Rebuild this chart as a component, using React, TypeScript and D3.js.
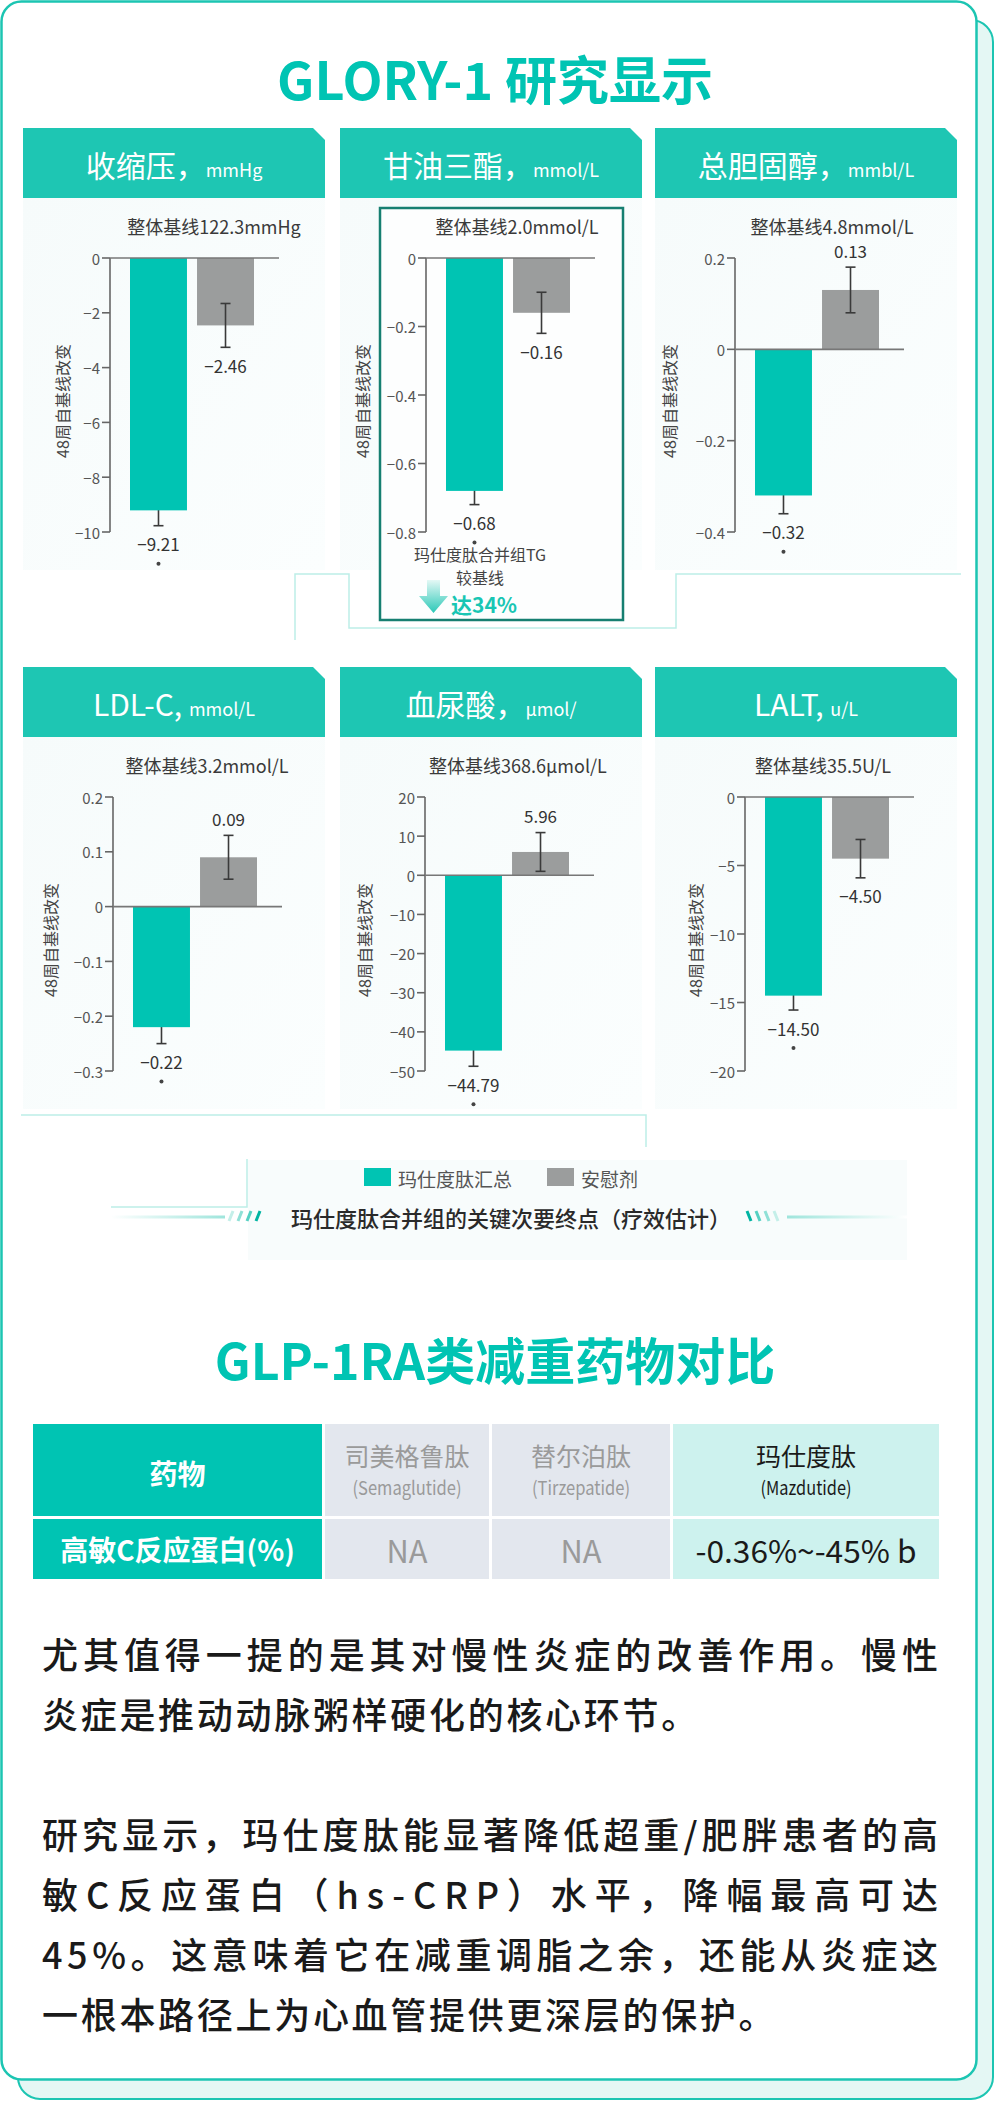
import * as d3 from "d3";
import React from "react";

const TEAL = "#00c4b3";
const GRAY = "#9b9d9d";
const FONT = '"Noto Sans CJK SC", "Noto Sans", sans-serif';

// panel data
const panelTitles = ["收缩压，", "甘油三酯，", "总胆固醇，", "LDL-C, ", "血尿酸，", "LALT, "];
const panelUnits = ["mmHg", "mmol/L", "mmbl/L", "mmol/L", "μmol/", "u/L"];
const baselines = [
  "整体基线122.3mmHg",
  "整体基线2.0mmol/L",
  "整体基线4.8mmol/L",
  "整体基线3.2mmol/L",
  "整体基线368.6μmol/L",
  "整体基线35.5U/L",
];
const mazduValues = [-9.21, -0.68, -0.32, -0.22, -44.79, -14.5];
const mazduErrors = [0.56, 0.04, 0.04, 0.03, 4.0, 1.05];
const placeboValues = [-2.46, -0.16, 0.13, 0.09, 5.96, -4.5];
const placeboErrors = [0.8, 0.06, 0.05, 0.04, 4.95, 1.4];
const yDomains: [number, number][] = [
  [-10, 0],
  [-0.8, 0],
  [-0.4, 0.2],
  [-0.3, 0.2],
  [-50, 20],
  [-20, 0],
];
const yTicks = [
  [0, -2, -4, -6, -8, -10],
  [0, -0.2, -0.4, -0.6, -0.8],
  [0.2, 0, -0.2, -0.4],
  [0.2, 0.1, 0, -0.1, -0.2, -0.3],
  [20, 10, 0, -10, -20, -30, -40, -50],
  [0, -5, -10, -15, -20],
];
const yAxisLabel = "48周自基线改变";
const annotLines = ["玛仕度肽合并组TG", "较基线"];
const annotHighlight = "达34%";

const legendLabels = ["玛仕度肽汇总", "安慰剂"];
const legendColors = [TEAL, GRAY];
const footerText = "玛仕度肽合并组的关键次要终点（疗效估计）";

const title1 = "GLORY-1 研究显示";
const title2 = "GLP-1RA类减重药物对比";

// table
const tableHeader = ["药物", "司美格鲁肽", "替尔泊肽", "玛仕度肽"];
const tableHeaderEn = ["", "(Semaglutide)", "(Tirzepatide)", "(Mazdutide)"];
const tableRow = ["高敏C反应蛋白(%)", "NA", "NA", "-0.36%~-45% b"];

const para1 = ["尤其值得一提的是其对慢性炎症的改善作用。慢性", "炎症是推动动脉粥样硬化的核心环节。"];
const para2 = [
  "研究显示，玛仕度肽能显著降低超重/肥胖患者的高",
  "敏C反应蛋白（hs-CRP）水平，降幅最高可达",
  "45%。这意味着它在减重调脂之余，还能从炎症这",
  "一根本路径上为心血管提供更深层的保护。",
];

// layout
const W = 995;
const H = 2101;
const colX = [23, 340, 655];
const rowY = [128, 667];
const PANEL_W = 302;
const HEAD_H = 70;
const BODY_H = 372;
const axisOff = [87, 86, 80, 90, 85, 90];
const yLabelOff = [39, 22, 14, 27, 24, 40];
const subOff = [191, 177, 177, 184, 178, 168];

const fmtVal = d3.format(".2f");
const fmtTick = d3.format("~g");

function Panel({ i }: { i: number }) {
  const col = i % 3;
  const row = Math.floor(i / 3);
  const x0 = colX[col];
  const y0 = rowY[row];
  const hb = y0 + HEAD_H;
  const ax = x0 + axisOff[i];
  const y = d3.scaleLinear().domain(yDomains[i]).range([hb + 334, hb + 60]);
  const xb = d3
    .scaleBand<number>()
    .domain([0, 1])
    .range([ax + 20, ax + 144])
    .paddingInner(0.15);
  const vals = [mazduValues[i], placeboValues[i]];
  const errs = [mazduErrors[i], placeboErrors[i]];
  const colors = [TEAL, GRAY];
  const bw = xb.bandwidth();
  const c = 12;

  const errBar = (k: number) => {
    const cx = xb(k)! + bw / 2;
    const v = vals[k];
    const e = errs[k];
    return (
      <g key={"e" + k} stroke="#3a3a3a" strokeWidth={1.6}>
        <line x1={cx} x2={cx} y1={y(v - e)} y2={y(v + e)} />
        <line x1={cx - 5} x2={cx + 5} y1={y(v - e)} y2={y(v - e)} />
        <line x1={cx - 5} x2={cx + 5} y1={y(v + e)} y2={y(v + e)} />
      </g>
    );
  };
  const bar = (k: number) => {
    const v = vals[k];
    return (
      <rect
        key={"b" + k}
        x={xb(k)}
        width={bw}
        y={y(Math.max(v, 0))}
        height={Math.abs(y(v) - y(0))}
        fill={colors[k]}
      />
    );
  };

  return (
    <g>
      <rect x={x0} y={hb} width={PANEL_W} height={BODY_H} fill="url(#bodyGrad)" />
      <polygon
        points={`${x0},${y0} ${x0 + PANEL_W - c},${y0} ${x0 + PANEL_W},${y0 + c} ${x0 + PANEL_W},${hb} ${x0},${hb}`}
        fill="#1ec6b3"
      />
      <text
        x={x0 + PANEL_W / 2}
        y={y0 + 49}
        textAnchor="middle"
        fill="#fff"
        fontFamily={FONT}
      >
        <tspan fontSize={30}>{panelTitles[i]}</tspan>
        <tspan fontSize={18}>{panelUnits[i]}</tspan>
      </text>
      {i === 1 && (
        <rect
          x={380}
          y={208}
          width={243}
          height={412}
          fill="#fdfefe"
          stroke="#167f71"
          strokeWidth={2.5}
        />
      )}
      <text
        x={x0 + subOff[i]}
        y={y0 + 98}
        textAnchor="middle"
        dominantBaseline="central"
        fontSize={18}
        fill="#3a3a3a"
        fontFamily={FONT}
      >
        {baselines[i]}
      </text>
      {/* axis */}
      <line x1={ax} x2={ax} y1={y.range()[1]} y2={y.range()[0]} stroke="#666" strokeWidth={1.6} />
      {yTicks[i].map((t) => (
        <g key={t}>
          <line x1={ax - 8} x2={ax} y1={y(t)} y2={y(t)} stroke="#666" strokeWidth={1.6} />
          <text
            x={ax - 10}
            y={y(t)}
            textAnchor="end"
            dominantBaseline="central"
            fontSize={15}
            fill="#555"
            fontFamily={FONT}
          >
            {fmtTick(t)}
          </text>
        </g>
      ))}
      <text
        transform={`translate(${x0 + yLabelOff[i]},${(y.range()[0] + y.range()[1]) / 2 + 6}) rotate(-90)`}
        textAnchor="middle"
        dominantBaseline="central"
        fontSize={16}
        fill="#444"
        fontFamily={FONT}
      >
        {yAxisLabel}
      </text>
      {errBar(0)}
      {bar(0)}
      {bar(1)}
      {errBar(1)}
      <line x1={ax} x2={ax + 169} y1={y(0)} y2={y(0)} stroke="#777" strokeWidth={1.6} />
      {vals.map((v, k) => {
        const cx = xb(k)! + bw / 2;
        const ly = v < 0 ? y(v - errs[k]) + 18 : y(v + errs[k]) - 17;
        return (
          <g key={"l" + k}>
            <text
              x={cx}
              y={ly}
              textAnchor="middle"
              dominantBaseline="central"
              fontSize={17}
              fill="#333"
              fontFamily={FONT}
            >
              {fmtVal(v)}
            </text>
            {k === 0 && (
              <circle cx={cx} cy={ly + 20} r={2} fill="#444" />
            )}
          </g>
        );
      })}
      {i === 1 && (
        <g fontFamily={FONT}>
          {annotLines.map((s, k) => (
            <text
              key={s}
              x={480}
              y={554 + k * 23}
              textAnchor="middle"
              dominantBaseline="central"
              fontSize={16}
              fill="#444"
            >
              {s}
            </text>
          ))}
          <path
            d="M427,580 H440 V596 H448 L433.5,613 L419,596 H427 Z"
            fill="url(#arrowGrad)"
          />
          <text
            x={451}
            y={604}
            dominantBaseline="central"
            fontSize={21}
            fontWeight="bold"
            fill="#19c6b4"
          >
            {annotHighlight}
          </text>
        </g>
      )}
    </g>
  );
}

function Slashes({ x, y, dir }: { x: number; y: number; dir: number }) {
  const shades = ["#c4efe9", "#8fe0d6", "#55d0c2", "#00b4a2"];
  const order = dir > 0 ? shades : [...shades].reverse();
  return (
    <g strokeWidth={3}>
      {order.map((col, k) => {
        const sx = x + k * 9;
        return dir > 0 ? (
          <line key={k} x1={sx} y1={y + 5} x2={sx + 4} y2={y - 5} stroke={col} />
        ) : (
          <line key={k} x1={sx} y1={y - 5} x2={sx + 4} y2={y + 5} stroke={col} />
        );
      })}
    </g>
  );
}

export default function App() {
  const tableCols: [number, number][] = [
    [33, 322],
    [325, 489],
    [492, 670],
    [673, 939],
  ];
  const colFill = [TEAL, "#e3e7ee", "#e3e7ee", "#cdf2ee"];
  const headFill = ["#fff", "#9a9a9a", "#9a9a9a", "#1a1a1a"];
  const enLen = [0, 109, 98, 91];
  const rowLen = [0, 41, 41, 221];
  const lineX = 42;
  const lineW = 896;

  return (
    <svg
      width={W}
      height={H}
      viewBox={`0 0 ${W} ${H}`}
      style={{ position: "absolute", left: 0, top: 0, background: "#fff" }}
    >
      <defs>
        <linearGradient id="bodyGrad" x1="0" y1="0" x2="1" y2="1">
          <stop offset="0" stopColor="#f6fbfb" />
          <stop offset="1" stopColor="#fbfefe" />
        </linearGradient>
        <linearGradient id="arrowGrad" x1="0" y1="0" x2="0" y2="1">
          <stop offset="0" stopColor="#e4f8f5" />
          <stop offset="1" stopColor="#2ac8b7" />
        </linearGradient>
        <linearGradient id="lineL" x1="0" y1="0" x2="1" y2="0">
          <stop offset="0" stopColor="#ffffff" />
          <stop offset="1" stopColor="#9fe5dc" />
        </linearGradient>
        <linearGradient id="lineR" x1="0" y1="0" x2="1" y2="0">
          <stop offset="0" stopColor="#9fe5dc" />
          <stop offset="1" stopColor="#ffffff" />
        </linearGradient>
      </defs>

      {/* cards */}
      <rect x={18} y={20} width={975} height={2079} rx={22} fill="#e4f7f4" stroke="#1cc5b2" strokeWidth={2} />
      <rect x={1.5} y={1.5} width={975} height={2078} rx={20} fill="#fff" stroke="#1cc5b2" strokeWidth={2.5} />

      <text x={495} y={100} textAnchor="middle" fontSize={52} fontWeight="bold" fill={TEAL} fontFamily={FONT}>
        {title1}
      </text>

      {/* decorative outlines */}
      <g fill="none" stroke="#bdeee8" strokeWidth={1.5}>
        <path d="M295,640 V574 H349 V628 H676 V574 H961" />
        <path d="M21,1115 H646 V1147" />
        <path d="M111,1207 H247 V1159" />
      </g>
      <rect x={248} y={1160} width={659} height={100} fill="#f8fcfc" />

      {panelTitles.map((_, i) => (
        <Panel key={i} i={i} />
      ))}

      {/* legend */}
      {legendLabels.map((lab, k) => {
        const lx = [364, 547][k];
        return (
          <g key={lab}>
            <rect x={lx} y={1168} width={27} height={18} fill={legendColors[k]} />
            <text x={lx + 34} y={1178} dominantBaseline="central" fontSize={19} fill="#555" fontFamily={FONT}>
              {lab}
            </text>
          </g>
        );
      })}
      <rect x={111} y={1215.5} width={114} height={3} fill="url(#lineL)" />
      <Slashes x={229} y={1216} dir={1} />
      <text
        x={511}
        y={1217}
        textAnchor="middle"
        dominantBaseline="central"
        fontSize={22}
        fontWeight={500}
        fill="#2a2a2a"
        fontFamily={FONT}
      >
        {footerText}
      </text>
      <Slashes x={747} y={1216} dir={-1} />
      <rect x={787} y={1215.5} width={120} height={3} fill="url(#lineR)" />

      <text x={495} y={1380} textAnchor="middle" fontSize={50} fontWeight="bold" fill={TEAL} fontFamily={FONT}>
        {title2}
      </text>

      {/* table */}
      {tableCols.map(([a, b], k) => {
        const cx = (a + b) / 2;
        return (
          <g key={k} fontFamily={FONT}>
            <rect x={a} y={1424} width={b - a} height={92} fill={colFill[k]} />
            <rect x={a} y={1519} width={b - a} height={60} fill={colFill[k]} />
            {k === 0 ? (
              <text x={cx} y={1473} textAnchor="middle" dominantBaseline="central" fontSize={28} fontWeight="bold" fill="#fff">
                {tableHeader[k]}
              </text>
            ) : (
              <>
                <text x={cx} y={1455} textAnchor="middle" dominantBaseline="central" fontSize={25} fill={headFill[k]}>
                  {tableHeader[k]}
                </text>
                <text
                  x={cx}
                  y={1486}
                  textAnchor="middle"
                  dominantBaseline="central"
                  fontSize={19}
                  fill={headFill[k]}
                  textLength={enLen[k]}
                  lengthAdjust="spacingAndGlyphs"
                >
                  {tableHeaderEn[k]}
                </text>
              </>
            )}
            {k === 0 ? (
              <text x={cx} y={1549} textAnchor="middle" dominantBaseline="central" fontSize={28} fontWeight="bold" fill="#fff">
                {tableRow[k]}
              </text>
            ) : (
              <text
                x={cx}
                y={1549}
                textAnchor="middle"
                dominantBaseline="central"
                fontSize={31}
                fill={headFill[k]}
                textLength={rowLen[k]}
                lengthAdjust="spacingAndGlyphs"
              >
                {tableRow[k]}
              </text>
            )}
          </g>
        );
      })}

      {/* paragraphs */}
      <g fontFamily={FONT} fontSize={36} fontWeight={500} fill="#1a1a1a">
        {para1.map((s, k) => (
          <text
            key={s}
            x={lineX}
            y={1653 + k * 60}
            dominantBaseline="central"
            {...(k < para1.length - 1
              ? { textLength: lineW, lengthAdjust: "spacing" }
              : { letterSpacing: 2.7 })}
          >
            {s}
          </text>
        ))}
        {para2.map((s, k) => (
          <text
            key={s}
            x={lineX}
            y={1833 + k * 60}
            dominantBaseline="central"
            {...(k < para2.length - 1
              ? { textLength: lineW, lengthAdjust: "spacing" }
              : { letterSpacing: 2.7 })}
          >
            {s}
          </text>
        ))}
      </g>
    </svg>
  );
}
